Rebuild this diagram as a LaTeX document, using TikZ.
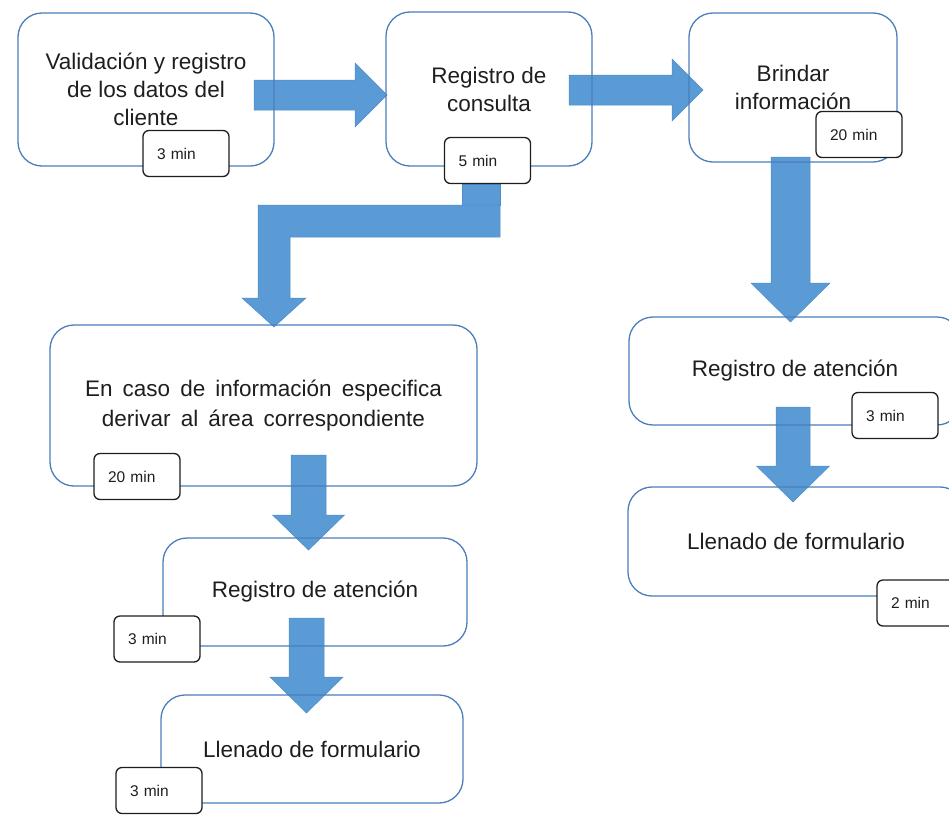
\documentclass[tikz,border=0pt]{standalone}
\usepackage{fontspec}
\setmainfont{Liberation Sans}
\usetikzlibrary{calc}

\definecolor{boxline}{HTML}{4A7EBB}
\definecolor{arrowfill}{HTML}{5B9BD5}
\definecolor{arrowedge}{HTML}{4D8CC8}
\definecolor{ink}{HTML}{1E1E1E}

\pgfdeclarelayer{flow}
\pgfsetlayers{flow,main}

\newcommand{\widewords}{\spaceskip=0.45em\relax}

\tikzset{
  procbox/.style={draw=boxline, line width=1.3pt, rounded corners=24pt,
    align=center, font=\fontsize{22.5}{28}\selectfont, text=ink, inner sep=0pt},
  timetag/.style={draw=ink, fill=white, line width=1.3pt, rounded corners=6pt,
    font=\fontsize{15.5}{17}\selectfont, text=ink, inner xsep=14pt, inner ysep=0pt,
    text width=58pt, align=left, minimum height=46pt},
  blockarrow/.style={fill=arrowfill, draw=arrowedge, line width=0.5pt},
}

% block arrow pointing right: from, tip, shaft half width, head half width, head length
\newcommand{\rightblock}[5]{%
  \path[blockarrow] let \p1=(#1), \p2=(#2) in
    (\x1,{\y1+#3pt}) -- ({\x2-#5pt},{\y1+#3pt}) -- ({\x2-#5pt},{\y1+#4pt})
    -- (\x2,\y1) -- ({\x2-#5pt},{\y1-#4pt}) -- ({\x2-#5pt},{\y1-#3pt})
    -- (\x1,{\y1-#3pt}) -- cycle;}
% block arrow pointing down: from, tip, shaft half width, head half width, head length
\newcommand{\downblock}[5]{%
  \path[blockarrow] let \p1=(#1), \p2=(#2) in
    ({\x1-#3pt},\y1) -- ({\x1+#3pt},\y1) -- ({\x1+#3pt},{\y2+#5pt})
    -- ({\x1+#4pt},{\y2+#5pt}) -- (\x1,\y2) -- ({\x1-#4pt},{\y2+#5pt})
    -- ({\x1-#3pt},{\y2+#5pt}) -- cycle;}

\begin{document}
\begin{tikzpicture}[x=1pt,y=-1pt]
\useasboundingbox (0,0) rectangle (949,814);
\clip (0,0) rectangle (949,814);

% process steps
\node[procbox, minimum width=256pt, minimum height=153pt] (b1) at (146,89.5)
  {Validación y registro\\de los datos del\\cliente};
\node[procbox, minimum width=206pt, minimum height=154pt] (b2) at (489,89)
  {Registro de\\consulta};
\node[procbox, minimum width=208pt, minimum height=149pt] (b3) at (793,87.5)
  {Brindar\\información};
\node[procbox, minimum width=427pt, minimum height=161pt,
      font={\fontsize{22.5}{30}\selectfont\widewords}] (b6) at (263.5,405.5)
  {En caso de información especifica\\derivar al área correspondiente};
\node[procbox, minimum width=304pt, minimum height=108pt] (b7) at (315,592)
  {Registro de atención};
\node[procbox, minimum width=302pt, minimum height=108pt] (b8) at (312,749)
  {Llenado de formulario};
\node[procbox, minimum width=332pt, minimum height=108pt] (b4) at (795,371)
  {Registro de atención};
\node[procbox, minimum width=336pt, minimum height=109pt] (b5) at (796,541.5)
  {Llenado de formulario};

% time tags
\node[timetag] (t1) at (186,153.5) {3 min};
\node[timetag] (t2) at (487.5,160.5) {5 min};
\node[timetag] (t3) at (859,134.5) {20 min};
\node[timetag] (t4) at (895,415.5) {3 min};
\node[timetag] (t5) at (920,603) {2 min};
\node[timetag] (t6) at (137,476.5) {20 min};
\node[timetag] (t7) at (157,639) {3 min};
\node[timetag] (t8) at (159,790.5) {3 min};

% arrow end points
\coordinate (a1s) at (254,95);   \coordinate (a1e) at (387,95);
\coordinate (a2s) at (569,90);   \coordinate (a2e) at (703,90);
\coordinate (a3s) at (790.5,157); \coordinate (a3e) at (790.5,322);
\coordinate (a4s) at (793,407);  \coordinate (a4e) at (793,502);
\coordinate (a5s) at (308.5,455); \coordinate (a5e) at (308.5,550);
\coordinate (a6s) at (306.5,618); \coordinate (a6e) at (306.5,713);

\begin{pgfonlayer}{flow}
  \rightblock{a1s}{a1e}{15}{32}{32}
  \rightblock{a2s}{a2e}{15}{31}{31}
  \downblock{a3s}{a3e}{19.5}{39.5}{39}
  \downblock{a4s}{a4e}{17}{36.5}{36}
  \downblock{a5s}{a5e}{17.5}{36}{35}
  \downblock{a6s}{a6e}{17.5}{36.5}{36}
  % bent arrow from the consultation step down to the referral step
  \path[blockarrow] (462,184) rectangle (500,205);
  \path[blockarrow] (500,205) -- (500,237) -- (290,237) -- (290,298)
    -- (306,298) -- (274,327) -- (242,298) -- (258,298) -- (258,205) -- cycle;
\end{pgfonlayer}
\end{tikzpicture}
\end{document}
